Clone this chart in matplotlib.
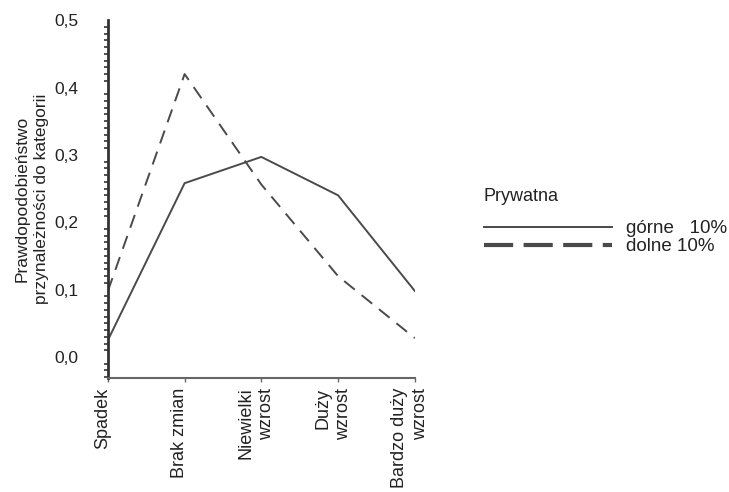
import matplotlib
matplotlib.use("Agg")
import matplotlib.pyplot as plt
from matplotlib.transforms import ScaledTranslation
from matplotlib.ticker import MultipleLocator
from matplotlib.lines import Line2D

plt.rcParams['font.family'] = ['Liberation Sans', 'DejaVu Sans']

categories = ["Spadek", "Brak zmian", "Niewielki\nwzrost", "Duży\nwzrost", "Bardzo duży\nwzrost"]
gorne = [0.025, 0.258, 0.297, 0.24, 0.098]
dolne = [0.098, 0.42, 0.256, 0.12, 0.028]
yticks = [0.0, 0.1, 0.2, 0.3, 0.4, 0.5]
ytick_labels = ["0,0", "0,1", "0,2", "0,3", "0,4", "0,5"]
legend_title = "Prywatna"
legend_labels = ["górne   10%", "dolne 10%"]

fig = plt.figure(figsize=(7.29, 4.92), dpi=100)
ax = fig.add_axes([0.148, 0.232, 0.421, 0.727])

x = list(range(len(categories)))
col = "#4a4a4a"
ax.plot(x, gorne, color=col, lw=1.4, solid_joinstyle='miter')
ax.plot(x, dolne, color=col, lw=1.4, dashes=(7, 4.5))

ax.set_xlim(0, 4)
ax.set_ylim(-0.031, 0.5)

for s in ['top', 'right']:
    ax.spines[s].set_visible(False)
ax.spines['left'].set_linewidth(2.0)
ax.spines['left'].set_color('#333333')
ax.spines['bottom'].set_linewidth(1.5)
ax.spines['bottom'].set_color('#666666')

ax.set_yticks(yticks)
ax.set_yticklabels(ytick_labels, fontsize=12.5, color='#222222')
ax.yaxis.set_minor_locator(MultipleLocator(0.01))
ax.tick_params(axis='y', which='major', length=0, pad=21)
ax.tick_params(axis='y', which='minor', length=3, width=1.2, color='#333333', direction='out')

ax.set_xticks(x)
ax.set_xticklabels(categories, rotation=90, fontsize=13, color='#222222',
                   ha='center', va='top', multialignment='right', linespacing=1.3)
ax.tick_params(axis='x', length=3, width=1, color='#666666', pad=4)
off = ScaledTranslation(-5/100, 0, fig.dpi_scale_trans)
for lab in ax.get_xticklabels():
    lab.set_transform(lab.get_transform() + off)

ax.set_ylabel("Prawdopodobieństwo\nprzynależności do kategorii", fontsize=12.5,
              color='#222222', labelpad=4, linespacing=1.4)

handles = [Line2D([], [], color=col, lw=1.4),
           Line2D([], [], color=col, lw=3, dashes=(7, 2.5))]
leg = fig.legend(handles, legend_labels,
                 loc='upper left', bbox_to_anchor=(0.641, 0.587),
                 frameon=False, fontsize=13.5,
                 handlelength=6.8, handletextpad=0.75, labelspacing=0.05,
                 borderpad=0.4)
for t in leg.get_texts():
    t.set_color('#222222')
fig.text(0.6626, 0.5996, legend_title, fontsize=13, color='#222222',
         ha='left', va='center')

fig.savefig("out.png", dpi=100)
